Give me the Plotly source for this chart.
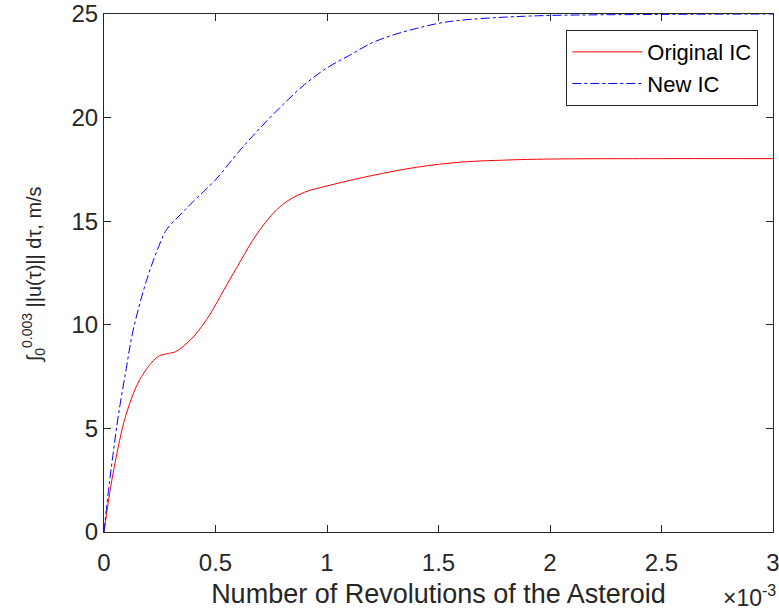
import plotly.graph_objects as go

x_orig = [0, 0.02, 0.04, 0.06, 0.08, 0.1, 0.16, 0.24, 0.28, 0.32, 0.39, 0.46, 0.565, 0.7, 0.8, 0.9, 1.0, 1.2, 1.4, 1.6, 1.8, 2.0, 2.5, 3.0]
y_orig = [0, 1.5, 2.8, 3.9, 4.9, 5.7, 7.35, 8.45, 8.6, 8.7, 9.3, 10.25, 12.2, 14.6, 15.8, 16.4, 16.7, 17.2, 17.6, 17.85, 17.95, 18.0, 18.02, 18.02]

x_new = [0, 0.02, 0.04, 0.064, 0.1, 0.131, 0.191, 0.25, 0.281, 0.35, 0.4, 0.5, 0.6, 0.7, 0.8, 0.9, 1.0, 1.1, 1.2, 1.3, 1.4, 1.5, 1.6, 1.8, 2.0, 2.5, 3.0]
y_new = [0, 2.0, 3.7, 5.6, 7.9, 9.75, 12.15, 13.9, 14.6, 15.4, 15.95, 17.0, 18.3, 19.5, 20.6, 21.6, 22.4, 23.0, 23.6, 24.0, 24.3, 24.55, 24.7, 24.85, 24.93, 24.98, 25.0]

x_ticks = [0, 0.5, 1, 1.5, 2, 2.5, 3]
y_ticks = [0, 5, 10, 15, 20, 25]

font = "Liberation Sans, Arial, Helvetica, sans-serif"
axcol = "#262626"

fig = go.Figure()
fig.add_trace(go.Scatter(x=x_orig, y=y_orig, mode="lines", name="Original IC",
                         line=dict(color="#ff0000", width=1, shape="spline")))
fig.add_trace(go.Scatter(x=x_new, y=y_new, mode="lines", name="New IC",
                         line=dict(color="#0000ff", width=1, dash="dashdot", shape="spline")))

axis_common = dict(showgrid=False, zeroline=False, showline=True, linecolor=axcol, linewidth=1,
                   mirror="ticks", ticks="inside", ticklen=7, tickcolor=axcol,
                   ticklabeloverflow="allow", automargin=False,
                   tickfont=dict(family=font, size=24, color=axcol))
fig.update_xaxes(range=[0, 3], tickvals=x_ticks, ticktext=[str(v) for v in x_ticks],
                 ticklabelstandoff=9,
                 title=dict(text="Number of Revolutions of the Asteroid",
                            font=dict(family=font, size=27, color=axcol), standoff=9),
                 **axis_common)
fig.update_yaxes(range=[0, 25], tickvals=y_ticks, **axis_common)

fig.add_annotation(text="∫<sub>0</sub><sup>0.003</sup> ||u(τ)|| dτ, m/s",
                   xref="paper", yref="paper", x=-0.105, y=0.497, textangle=-90,
                   xanchor="center", yanchor="middle", showarrow=False,
                   font=dict(family=font, size=20, color=axcol))

fig.add_annotation(text="×10<sup>-3</sup>", xref="paper", yref="paper", x=1.008, y=-0.09,
                   xanchor="right", yanchor="top", showarrow=False,
                   font=dict(family=font, size=23, color=axcol))

fig.update_layout(
    width=779, height=613,
    margin=dict(l=104, r=6, t=14, b=81),
    plot_bgcolor="white", paper_bgcolor="white",
    showlegend=True,
    legend=dict(x=0.978, y=0.969, xanchor="right", yanchor="top",
                bordercolor=axcol, borderwidth=1, bgcolor="white",
                itemwidth=70, tracegroupgap=0,
                font=dict(family=font, size=22, color="black")),
)
fig.write_html("out.html")
